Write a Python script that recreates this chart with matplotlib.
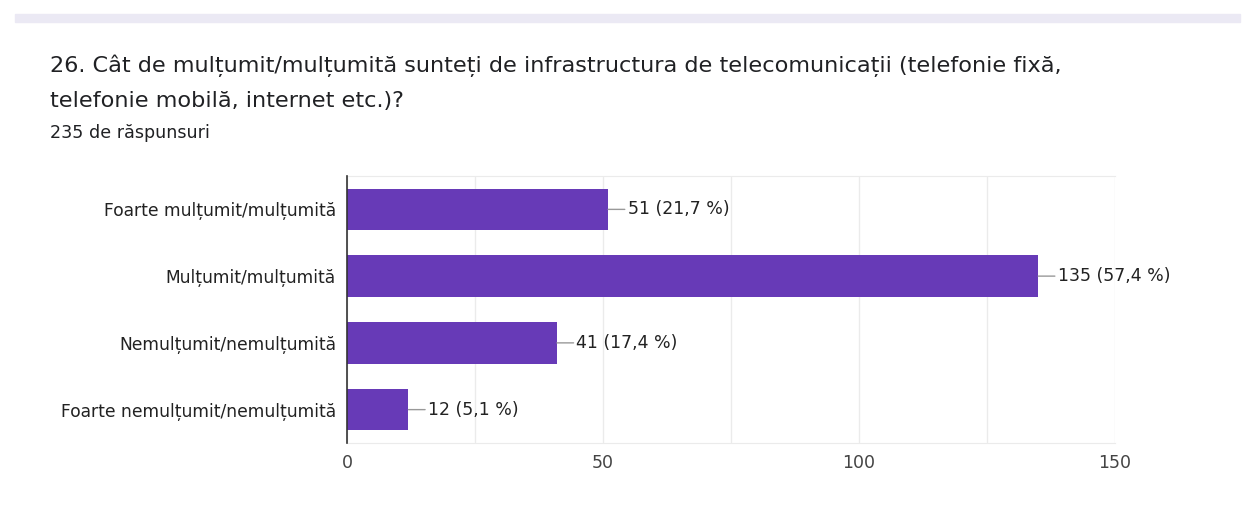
import matplotlib
matplotlib.use("Agg")
import matplotlib.pyplot as plt
from matplotlib.patches import Rectangle

categories = ["Foarte mulțumit/mulțumită", "Mulțumit/mulțumită",
              "Nemulțumit/nemulțumită", "Foarte nemulțumit/nemulțumită"]
counts = [51, 135, 41, 12]
percents = ["21,7", "57,4", "17,4", "5,1"]
xticks = [0, 50, 100, 150]

W, H = 1248, 517
fig = plt.figure(figsize=(W / 100, H / 100), dpi=100)
fig.patch.set_facecolor("white")

# top card band
fig.patches.append(Rectangle((15 / W, 1 - 22 / H), (1240 - 15) / W, 8 / H,
                             transform=fig.transFigure, color="#ebe9f4", zorder=0))

TF = "DejaVu Sans"
fig.text(50 / W, 1 - 66 / H,
         "26. Cât de mulțumit/mulțumită sunteți de infrastructura de telecomunicații (telefonie fixă,",
         fontsize=16.1, family=TF, color="#202124", va="center", ha="left")
fig.text(50 / W, 1 - 101 / H, "telefonie mobilă, internet etc.)?",
         fontsize=16.1, family=TF, color="#202124", va="center", ha="left")
fig.text(50 / W, 1 - 133 / H, "235 de răspunsuri",
         fontsize=12.6, family=TF, color="#202124", va="center", ha="left")

left, right, top, bottom = 347, 1115, 176, 443
ax = fig.add_axes([left / W, 1 - bottom / H, (right - left) / W, (bottom - top) / H])

ypos = list(range(len(categories)))
ax.barh(ypos, counts, height=0.62, color="#673ab7", zorder=3)
ax.set_ylim(len(categories) - 0.5, -0.5)
ax.set_xlim(0, 150)

LF = "DejaVu Sans"
ax.set_yticks(ypos)
ax.set_yticklabels(categories, fontsize=12.3, family=LF, color="#222222")
ax.set_xticks(xticks)
ax.set_xticklabels([str(t) for t in xticks], fontsize=12.5, family=LF, color="#444444")
ax.set_xticks(range(0, 151, 25), minor=True)
ax.tick_params(axis="y", length=0, pad=8)
ax.tick_params(axis="x", which="both", length=0, pad=8)
ax.grid(axis="x", which="both", color="#ebebeb", lw=1, zorder=0)

for s in ["top", "bottom"]:
    ax.spines[s].set_color("#ebebeb")
ax.spines["right"].set_visible(False)
ax.spines["left"].set_color("#333333")
ax.spines["left"].set_linewidth(1.2)
ax.spines["left"].set_zorder(4)

for y, c, p in zip(ypos, counts, percents):
    ax.annotate(f"{c} ({p} %)", xy=(c, y), xytext=(14, 0), textcoords="offset points",
                va="center", ha="left", fontsize=12.5, family=LF, color="#222222",
                arrowprops=dict(arrowstyle="-", color="#999999", lw=1, shrinkA=0, shrinkB=0))

fig.savefig("out.png", dpi=100)
